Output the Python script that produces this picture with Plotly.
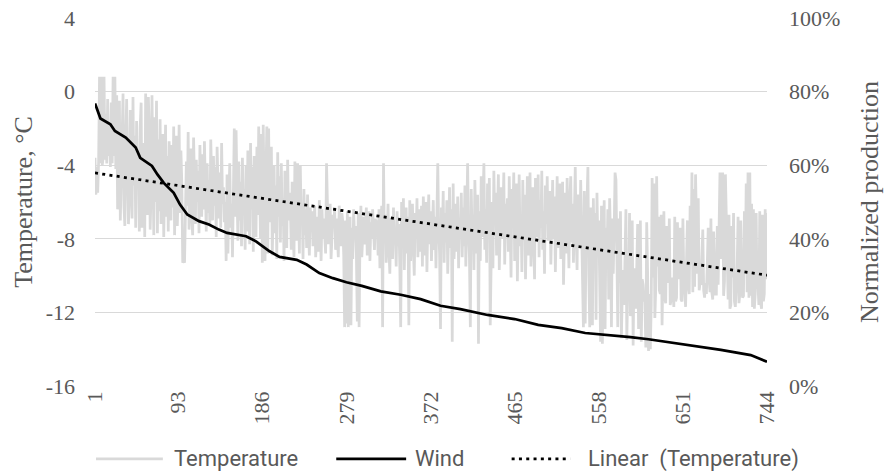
import numpy as np
import plotly.graph_objects as go

# Hourly temperature (°C), one row per day, hours ordered by descending wind output
temperature_days = [
    [-3.6,-5.6,-4.1,-5.5,-3.8,0.8,-3.9,0.8,-4.0,-3.6,0.8,-3.7,-1.2,-3.9,-0.4,-3.5,-1.8,-4.1,-0.6,-3.9,0.8,-3.5,0.8,-4.2],
    [-0.2,-6.4,-3.1,-0.5,-7.0,-4.8,-1.3,-0.1,-6.2,-7.3,-2.6,-0.4,-4.5,-7.2,-5.8,-1.0,-3.7,-6.9,-0.3,-5.1,-2.4,-7.4,-1.6,-4.6],
    [-3.3,-7.6,-1.9,-0.6,-7.4,-5.2,-2.8,-7.9,-0.1,-4.2,-6.7,-0.3,-2.1,-7.5,-5.5,-0.2,-3.4,-7.8,-1.4,-6.0,-0.5,-7.7,-2.6,-6.5],
    [-1.5,-7.2,-4.4,-2.3,-7.9,-5.7,-1.8,-6.8,-3.5,-7.6,-2.7,-5.1,-7.0,-2.9,-6.3,-1.9,-7.8,-4.0,-2.4,-7.3,-5.4,-1.8,-6.6,-3.2],
    [-5.0,-9.3,-9.2,-9.3,-7.1,-3.8,-6.2,-2.2,-7.5,-4.6,-3.1,-6.9,-7.8,-2.5,-5.6,-7.2,-3.7,-6.0,-4.3,-7.7,-2.9,-5.3,-6.8,-3.4],
    [-6.4,-2.7,-5.0,-7.6,-3.9,-6.6,-4.8,-7.3,-2.6,-5.8,-7.0,-3.5,-6.2,-4.1,-7.9,-3.0,-5.5,-6.9,-4.4,-7.4,-2.8,-6.1,-5.2,-7.1],
    [-6.0,-9.2,-4.5,-8.8,-5.7,-3.9,-7.4,-6.1,-9.0,-4.2,-2.0,-6.8,-2.1,-5.4,-8.1,-3.8,-7.0,-4.9,-8.4,-3.6,-6.5,-5.3,-8.6,-4.0],
    [-7.6,-3.2,-5.9,-8.3,-2.8,-6.4,-4.1,-8.7,-3.5,-5.2,-7.9,-3.0,-6.7,-1.9,-5.0,-8.0,-2.3,-9.3,-1.8,-6.2,-9.2,-4.4,-1.9,-8.8],
    [-2.0,-7.1,-5.4,-3.0,-8.9,-6.3,-4.0,-7.7,-5.1,-9.1,-3.3,-6.8,-4.6,-8.2,-3.9,-7.3,-5.8,-9.2,-4.3,-6.0,-8.5,-3.7,-7.0,-5.5],
    [-6.2,-8.6,-4.9,-7.4,-9.0,-3.8,-6.6,-8.1,-3.9,-5.7,-8.8,-4.0,-7.2,-6.1,-9.1,-5.3,-7.8,-6.4,-8.5,-5.6,-7.0,-8.9,-6.3,-7.6],
    [-6.5,-8.4,-7.1,-6.2,-9.0,-7.6,-6.8,-8.7,-5.9,-7.3,-9.2,-6.4,-8.0,-6.9,-7.7,-8.8,-3.9,-6.6,-8.3,-7.0,-6.1,-9.1,-7.4,-6.7],
    [-7.2,-6.3,-8.6,-6.9,-7.8,-9.0,-6.2,-7.5,-8.4,-6.6,-7.1,-8.9,-12.8,-7.0,-12.6,-6.5,-12.8,-8.2,-6.8,-12.7,-7.4,-9.1,-6.4,-8.0],
    [-7.3,-8.8,-12.5,-6.6,-12.8,-7.9,-6.2,-9.0,-7.5,-6.8,-8.3,-7.0,-6.3,-8.9,-7.7,-6.5,-9.2,-7.1,-8.0,-6.4,-7.6,-8.6,-6.9,-7.4],
    [-7.0,-8.9,-6.4,-9.6,-7.5,-6.2,-12.8,-3.9,-8.2,-6.7,-9.3,-7.8,-6.1,-8.6,-9.9,-6.9,-7.3,-9.1,-6.3,-8.0,-7.6,-9.5,-6.5,-8.4],
    [-7.2,-9.4,-12.8,-6.0,-8.1,-5.8,-9.7,-7.0,-6.3,-8.8,-6.8,-12.7,-5.9,-9.2,-7.6,-6.1,-8.5,-10.0,-6.6,-7.9,-5.8,-9.0,-7.3,-6.4],
    [-8.7,-6.2,-9.5,-5.7,-7.4,-8.9,-6.0,-9.8,-7.1,-5.6,-8.3,-6.5,-9.2,-7.7,-5.9,-8.6,-6.8,-9.6,-5.5,-3.9,-7.5,-8.8,-12.9,-6.3],
    [-7.9,-5.4,-9.3,-6.6,-8.2,-5.9,-9.9,-7.0,-5.2,-8.5,-6.4,-13.6,-5.0,-9.1,-7.3,-6.1,-8.7,-5.7,-9.6,-6.9,-7.8,-5.5,-9.0,-6.3],
    [-8.4,-5.1,-9.5,-6.2,-3.9,-7.6,-9.0,-12.8,-5.3,-8.1,-6.7,-9.7,-4.8,-7.2,-8.8,-5.6,-13.7,-6.5,-9.2,-4.6,-7.9,-5.8,-3.9,-8.6],
    [-6.4,-9.3,-5.0,-7.7,-4.7,-12.7,-8.3,-6.0,-9.6,-4.3,-7.1,-5.5,-8.9,-6.6,-4.5,-9.7,-7.4,-5.2,-8.0,-6.8,-4.4,-9.4,-6.1,-7.5],
    [-5.8,-8.7,-4.6,-7.3,-10.1,-5.3,-6.9,-4.4,-9.2,-7.8,-5.0,-10.3,-6.2,-4.5,-8.4,-6.7,-9.8,-4.8,-7.6,-5.6,-10.2,-6.3,-4.6,-8.9],
    [-7.1,-4.4,-9.5,-6.0,-5.2,-8.3,-10.2,-4.7,-6.8,-7.9,-4.5,-9.0,-5.9,-7.4,-4.3,-8.6,-6.5,-9.9,-5.1,-7.2,-4.6,-8.1,-6.9,-5.4],
    [-9.4,-6.2,-4.8,-8.0,-5.7,-9.8,-7.0,-4.6,-8.5,-6.4,-5.0,-9.1,-7.5,-4.9,-10.5,-6.7,-5.5,-8.8,-4.7,-7.3,-9.6,-5.9,-4.6,-8.2],
    [-6.1,-9.3,-5.2,-4.1,-7.8,-9.7,-5.6,-6.9,-8.4,-4.8,-7.2,-9.0,-12.8,-5.4,-12.6,-7.7,-4.9,-4.1,-10.0,-12.8,-6.3,-8.7,-12.7,-5.8],
    [-9.1,-6.6,-12.4,-5.5,-8.3,-7.0,-10.6,-13.6,-6.2,-13.7,-8.8,-5.9,-12.9,-7.4,-9.5,-6.4,-11.3,-5.8,-8.0,-12.8,-6.9,-9.9,-7.6,-4.4],
    [-4.8,-11.2,-12.8,-6.9,-10.4,-6.5,-13.4,-11.0,-9.7,-11.6,-9.2,-6.4,-13.5,-10.8,-10.9,-6.6,-12.2,-11.5,-7.0,-13.8,-9.6,-10.3,-11.8,-8.9],
    [-7.2,-12.9,-12.0,-7.0,-13.6,-10.2,-10.5,-11.4,-11.3,-13.9,-7.1,-9.8,-14.1,-11.0,-14.0,-11.6,-4.7,-10.1,-5.0,-12.3,-10.7,-4.6,-9.5,-6.8],
    [-10.8,-11.0,-6.7,-12.7,-9.1,-6.5,-11.2,-11.5,-7.3,-10.4,-9.6,-6.9,-11.6,-11.3,-10.1,-10.9,-11.7,-6.8,-11.4,-11.2,-7.1,-10.2,-9.3,-7.4],
    [-11.3,-11.4,-6.9,-10.0,-10.8,-11.7,-9.2,-7.0,-10.6,-11.0,-6.2,-9.4,-4.4,-10.9,-5.3,-10.6,-4.5,-7.4,-9.9,-5.8,-10.8,-10.4,-10.5,-9.0],
    [-7.5,-10.8,-11.2,-10.4,-11.0,-9.3,-7.4,-10.2,-10.9,-6.9,-10.9,-11.3,-7.6,-9.7,-11.0,-11.0,-7.3,-10.5,-6.1,-4.4,-9.1,-5.2,-4.4,-11.1],
    [-10.3,-4.5,-7.2,-10.6,-11.3,-6.7,-11.8,-11.6,-7.3,-10.1,-6.6,-11.4,-11.7,-10.7,-9.6,-6.8,-11.5,-11.0,-7.0,-10.4,-11.2,-11.1,-6.5,-9.7],
    [-5.0,-10.9,-4.4,-11.2,-4.4,-11.1,-6.1,-11.7,-6.4,-11.8,-11.0,-6.6,-10.7,-10.5,-11.6,-6.5,-11.5,-11.8,-6.7,-11.4,-11.0,-6.4,-10.2,-6.6],
]

# Normalized wind production (%), duration curve read at these hour ranks
wind_hours = [1, 7, 18, 23, 35, 46, 51, 64, 70, 77, 88, 95, 103, 116, 127, 138, 147, 168, 179, 194,
              205, 224, 235, 249, 264, 279, 296, 317, 339, 361, 383, 405, 435, 465, 491, 517, 543,
              568, 593, 613, 657, 693, 726, 734, 744]
wind_pct = [76.8, 72.7, 71.1, 69.3, 67.5, 64.8, 62.0, 59.8, 57.5, 55.2, 52.5, 49.3, 46.6, 44.8, 43.9,
            42.5, 41.6, 40.7, 39.3, 36.6, 35.1, 34.3, 33.0, 30.7, 29.3, 28.2, 27.2, 25.7, 24.8, 23.6,
            21.8, 20.9, 19.3, 18.2, 16.6, 15.7, 14.4, 13.9, 13.3, 12.7, 11.2, 9.8, 8.4, 7.5, 6.6]

hour_ticks = [1, 93, 186, 279, 372, 465, 558, 651, 744]
temp_ticks = [-16, -12, -8, -4, 0, 4]
pct_ticks = [0, 20, 40, 60, 80, 100]

assert all(len(d) == 24 for d in temperature_days)
temperature = [v for day in temperature_days for v in day]
hours = list(range(1, len(temperature) + 1))

# Least-squares linear trend of temperature
slope, intercept = np.polyfit(hours, temperature, 1)
trend_x = [hours[0], hours[-1]]
trend_y = [intercept + slope * h for h in trend_x]

GRID = "#d9d9d9"
TEXT = "#595959"
SERIF = "Liberation Serif"
SANS = "Roboto"

tick_font = dict(family=SERIF, size=22, color=TEXT)
title_font = dict(family=SERIF, size=26, color=TEXT)

fig = go.Figure()
fig.add_trace(go.Scatter(x=hours, y=temperature, mode="lines", name="Temperature",
                         line=dict(color=GRID, width=2.75), yaxis="y"))
fig.add_trace(go.Scatter(x=wind_hours, y=wind_pct, mode="lines", name="Wind",
                         line=dict(color="black", width=2.75), yaxis="y2"))
fig.add_trace(go.Scatter(x=trend_x, y=trend_y, mode="lines", name="Linear  (Temperature)",
                         line=dict(color="black", width=2.75, dash="3px,4.3px"), yaxis="y"))

fig.update_layout(
    width=886, height=476,
    margin=dict(l=95, r=119, t=18, b=90),
    plot_bgcolor="white", paper_bgcolor="white",
    showlegend=False,
    font=dict(family=SERIF, color=TEXT, size=22),
    xaxis=dict(range=[1, 744], tickvals=hour_ticks, ticktext=[str(t) for t in hour_ticks],
               tickangle=-90, showgrid=False, zeroline=False, showline=False, ticks="",
               tickfont=tick_font, automargin=False),
    yaxis=dict(range=[-16, 4], tickvals=temp_ticks, ticktext=[str(t) for t in temp_ticks],
               showgrid=True, gridcolor=GRID, gridwidth=1.3,
               zeroline=False, showline=False, ticks="", ticklabelstandoff=19,
               tickfont=tick_font, automargin=False,
               title=dict(text="Temperature, °C", font=title_font, standoff=5)),
    yaxis2=dict(range=[0, 100], tickvals=pct_ticks, ticktext=[f"{t}%" for t in pct_ticks],
                overlaying="y", side="right",
                showgrid=False, zeroline=False, showline=False, ticks="", ticklabelstandoff=21,
                tickfont=tick_font, automargin=False,
                title=dict(text="Normalized production", font=title_font, standoff=20)),
)

# Legend row drawn beneath the axis labels
legend_y = -0.198
legend_items = [
    ("Temperature", dict(color=GRID, width=2.75), 0.0015, 0.101, 0.114),
    ("Wind", dict(color="black", width=2.75), 0.359, 0.463, 0.473),
    ("Linear\u00a0 (Temperature)", dict(color="black", width=2.75, dash="3px,4.3px"), 0.620, 0.707, 0.730),
]
for label, style, x0, x1, xt in legend_items:
    fig.add_shape(type="line", xref="paper", yref="paper", x0=x0, x1=x1, y0=legend_y, y1=legend_y,
                  line=style)
    fig.add_annotation(xref="paper", yref="paper", x=xt, y=legend_y, text=label, showarrow=False,
                       xanchor="left", yanchor="middle",
                       font=dict(family=SANS, size=22, color=TEXT))

fig.write_html("out.html")
